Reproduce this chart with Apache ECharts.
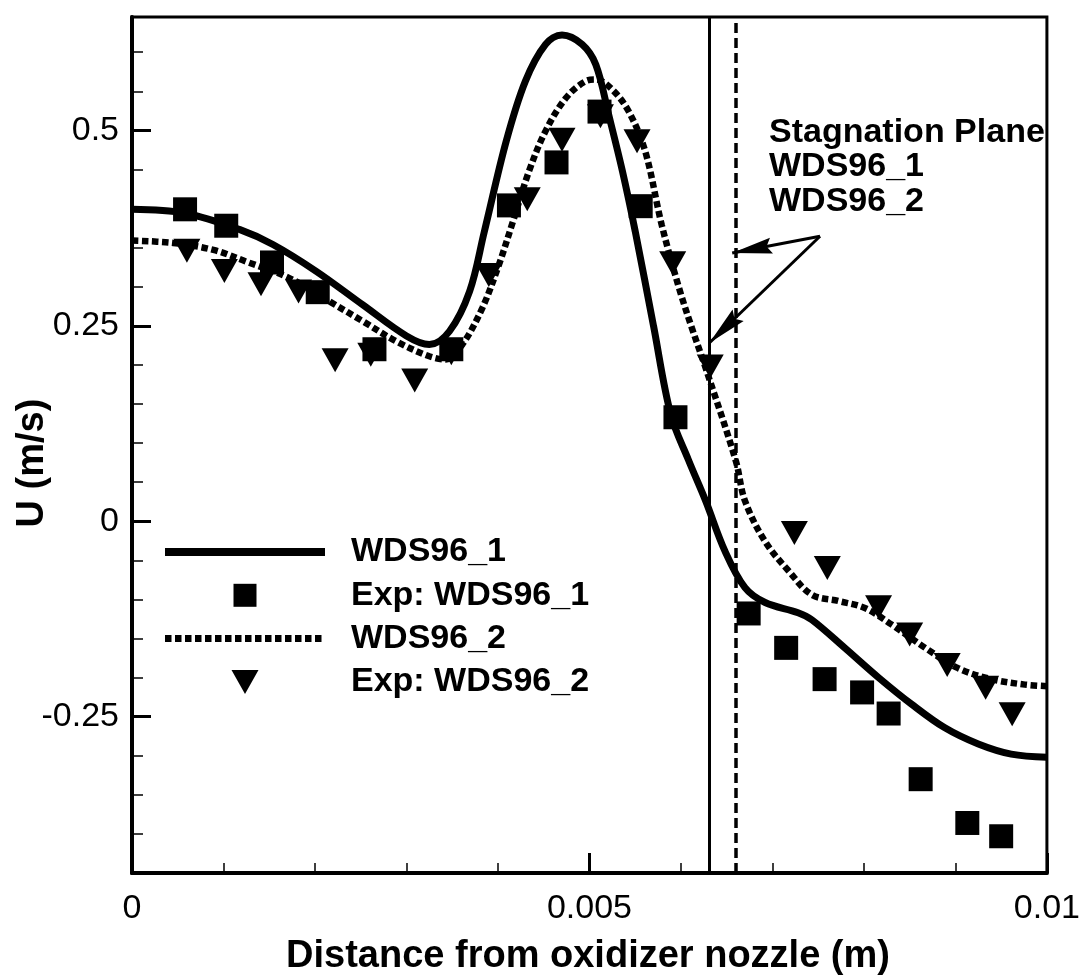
<!DOCTYPE html>
<html>
<head>
<meta charset="utf-8">
<script src="https://cdn.jsdelivr.net/npm/echarts@6/dist/echarts.min.js"></script>
<style>
  html, body { margin: 0; padding: 0; background: #fff; }
  #chart { width: 1083px; height: 980px; }
</style>
</head>
<body>
<div id="chart"></div>
<script>
const FONT = "'Liberation Sans', Arial, Helvetica, sans-serif";

// Axis ranges and ticks
const xMin = 0, xMax = 0.01;
const uMin = -0.45, uMax = 0.645;
const xMajorTicks = [0, 0.005, 0.01];
const xTickLabels = ['0', '0.005', '0.01'];
const xMinorTicks = [0.001, 0.002, 0.003, 0.004, 0.006, 0.007, 0.008, 0.009];
const uMajorTicks = [-0.25, 0, 0.25, 0.5];
const uTickLabels = ['-0.25', '0', '0.25', '0.5'];
const uMinorTicks = [-0.4, -0.35, -0.3, -0.2, -0.15, -0.1, -0.05, 0.05, 0.1, 0.15, 0.2,
                     0.3, 0.35, 0.4, 0.45, 0.55, 0.6];

// Computed velocity, case WDS96_1 (solid)
const wds1X = [0, 0.00058, 0.00118, 0.00154, 0.00201, 0.00252, 0.0030, 0.00325, 0.00347,
               0.00369, 0.00385, 0.00409, 0.0043, 0.00452, 0.0047, 0.00492, 0.00507, 0.00521,
               0.00536, 0.0055, 0.0057, 0.00589, 0.00608, 0.00627, 0.00648, 0.0067, 0.00692,
               0.00728, 0.00743, 0.00779, 0.00816, 0.00852, 0.00888, 0.00925, 0.00961, 0.01];
const wds1U = [0.399, 0.394, 0.373, 0.354, 0.320, 0.277, 0.237, 0.226, 0.243,
               0.294, 0.370, 0.486, 0.563, 0.610, 0.622, 0.610, 0.584, 0.520,
               0.448, 0.371, 0.250, 0.136, 0.079, 0.026, -0.038, -0.085, -0.104,
               -0.117, -0.126, -0.162, -0.200, -0.234, -0.264, -0.285, -0.298, -0.302];

// Computed velocity, case WDS96_2 (dotted)
const wds2X = [0, 0.00045, 0.00089, 0.00125, 0.00172, 0.00216, 0.00252, 0.00289, 0.00325,
               0.00343, 0.00361, 0.00383, 0.00401, 0.00416, 0.00434, 0.00452, 0.00474, 0.00496,
               0.00507, 0.00525, 0.00543, 0.00561, 0.00579, 0.00598, 0.00612, 0.00627, 0.0066,
               0.0067, 0.00692, 0.00718, 0.00743, 0.00772, 0.00801, 0.0083, 0.00867, 0.00903,
               0.00939, 0.00976, 0.01];
const wds2U = [0.359, 0.356, 0.347, 0.332, 0.311, 0.281, 0.256, 0.230, 0.211,
               0.207, 0.226, 0.273, 0.328, 0.382, 0.448, 0.499, 0.541, 0.563,
               0.565, 0.552, 0.524, 0.473, 0.379, 0.298, 0.247, 0.196, 0.077,
               0.026, -0.026, -0.064, -0.094, -0.102, -0.111, -0.132, -0.162, -0.188,
               -0.202, -0.209, -0.211];

// Measurements, case WDS96_1 (squares)
const exp1X = [0.00058, 0.00103, 0.00153, 0.00203, 0.00265, 0.00349, 0.00412, 0.00464, 0.00511,
               0.00556, 0.00594, 0.00674, 0.00715, 0.00757, 0.00798, 0.00827, 0.00862, 0.00913, 0.0095];
const exp1U = [0.399, 0.378, 0.331, 0.293, 0.220, 0.220, 0.404, 0.459, 0.524,
               0.403, 0.133, -0.118, -0.162, -0.202, -0.219, -0.246, -0.330, -0.386, -0.403];

// Measurements, case WDS96_2 (down triangles)
const exp2X = [0.0006, 0.00101, 0.00141, 0.00182, 0.00222, 0.00261, 0.00309, 0.00349, 0.0039,
               0.00432, 0.0047, 0.00512, 0.00552, 0.00591, 0.00632, 0.00724, 0.0076, 0.00816,
               0.0085, 0.00891, 0.00933, 0.00962];
const exp2U = [0.346, 0.320, 0.303, 0.294, 0.206, 0.213, 0.180, 0.215, 0.315,
               0.412, 0.488, 0.518, 0.486, 0.330, 0.198, -0.015, -0.060, -0.110,
               -0.145, -0.184, -0.213, -0.247];

// Stagnation plane locations
const stagPlane1 = 0.00631;
const stagPlane2 = 0.0066;

// Callout arrows: shared tail, tips at each plane
const arrowTail = [0.00752, 0.3645];
const arrowTip1 = [0.00656, 0.343];
const arrowTip2 = [0.00631, 0.228];

const zip = (xs, ys) => xs.map((x, i) => [x, ys[i]]);
const pickLabel = (ticks, labels) => v => {
  const i = ticks.findIndex(t => Math.abs(t - v) < 1e-9);
  return i >= 0 ? labels[i] : '';
};

// Legend icons, laid out in a 160 x 24 box
const solidIcon = 'path://M0,0M160,24M0,8h160v8h-160z';
let dottedPath = 'path://M0,0M160,24';
for (let x = 0; x < 160; x += 10) dottedPath += 'M' + x + ',8.5h6.5v7h-6.5z';
const dottedIcon = dottedPath;
const squareIcon = 'path://M0,0M160,24M68.5,0.5h23v23h-23z';
const triangleIcon = 'path://M0,0M160,24M66.5,0h27l-13.5,24z';
const triangleSymbol = 'path://M0,0h27l-13.5,24z';
// Arrow head pointing up inside a 40 x 40 box
const arrowHead = 'path://M0,0M40,40M20,0L28,40L20,35L12,40Z';

const chart = echarts.init(document.getElementById('chart'), null, { renderer: 'canvas' });

const arrowLine = { color: '#000', width: 3, type: 'solid' };
const headAt = coord => ({ coord: coord, symbol: arrowHead, symbolSize: 40, symbolOffset: [0, 20] });

chart.setOption({
  animation: false,
  backgroundColor: '#fff',
  textStyle: { fontFamily: FONT, color: '#000' },
  grid: {
    left: 132, right: 35, top: 17, bottom: 107,
    show: true, borderColor: '#000', borderWidth: 3, backgroundColor: 'transparent'
  },
  legend: {
    orient: 'vertical',
    left: 165, top: 535,
    padding: 0,
    itemWidth: 160, itemHeight: 24, itemGap: 9.3,
    selectedMode: false,
    textStyle: { fontFamily: FONT, fontWeight: 'bold', fontSize: 34, color: '#000',
                 padding: [0, 0, 0, 21] },
    data: [
      { name: 'WDS96_1', icon: solidIcon },
      { name: 'Exp: WDS96_1', icon: squareIcon },
      { name: 'WDS96_2', icon: dottedIcon },
      { name: 'Exp: WDS96_2', icon: triangleIcon }
    ]
  },
  xAxis: [
    {
      type: 'value', min: xMin, max: xMax, position: 'bottom',
      axisLine: { show: true, onZero: false, lineStyle: { color: '#000', width: 4 } },
      axisTick: { show: true, inside: true, length: 20, customValues: xMajorTicks,
                  lineStyle: { color: '#000', width: 3 } },
      axisLabel: { show: true, customValues: xMajorTicks, formatter: pickLabel(xMajorTicks, xTickLabels),
                   fontFamily: FONT, fontSize: 34, color: '#000', margin: 19 },
      splitLine: { show: false }
    },
    {
      type: 'value', min: xMin, max: xMax, position: 'bottom',
      axisLine: { show: false, onZero: false },
      axisTick: { show: true, inside: true, length: 10, customValues: xMinorTicks,
                  lineStyle: { color: '#000', width: 1.5 } },
      axisLabel: { show: false },
      splitLine: { show: false }
    }
  ],
  yAxis: [
    {
      type: 'value', min: uMin, max: uMax, position: 'left',
      axisLine: { show: true, onZero: false, lineStyle: { color: '#000', width: 4 } },
      axisTick: { show: true, inside: true, length: 19, customValues: uMajorTicks,
                  lineStyle: { color: '#000', width: 3 } },
      axisLabel: { show: true, customValues: uMajorTicks, formatter: pickLabel(uMajorTicks, uTickLabels),
                   fontFamily: FONT, fontSize: 34, color: '#000', margin: 13 },
      splitLine: { show: false }
    },
    {
      type: 'value', min: uMin, max: uMax, position: 'left',
      axisLine: { show: false, onZero: false },
      axisTick: { show: true, inside: true, length: 11, customValues: uMinorTicks,
                  lineStyle: { color: '#000', width: 1.5 } },
      axisLabel: { show: false },
      splitLine: { show: false }
    }
  ],
  graphic: [
    {
      // x-axis title
      type: 'text', x: 588, y: 957,
      style: { text: 'Distance from oxidizer nozzle (m)', fontFamily: FONT, fontWeight: 'bold',
               fontSize: 38, fill: '#000', align: 'center', verticalAlign: 'middle' }
    },
    {
      // y-axis title
      type: 'text', x: 33, y: 463, rotation: Math.PI / 2,
      style: { text: 'U (m/s)', fontFamily: FONT, fontWeight: 'bold', fontSize: 38,
               fill: '#000', align: 'center', verticalAlign: 'middle' }
    },
    {
      type: 'text', x: 769, y: 115,
      style: { text: 'Stagnation Plane\nWDS96_1\nWDS96_2', fontFamily: FONT, fontWeight: 'bold',
               fontSize: 34, lineHeight: 34.5, fill: '#000', align: 'left', verticalAlign: 'top' }
    }
  ],
  series: [
    {
      name: 'planes', type: 'line', data: [], silent: true,
      markLine: {
        silent: true, symbol: 'none', animation: false,
        label: { show: false },
        data: [
          [{ coord: [stagPlane1, uMin], lineStyle: { color: '#000', width: 3, type: 'solid' } },
           { coord: [stagPlane1, uMax] }],
          [{ coord: [stagPlane2, uMin], lineStyle: { color: '#000', width: 3.5, type: [10, 5] } },
           { coord: [stagPlane2, uMax] }]
        ]
      }
    },
    {
      name: 'callouts', type: 'line', data: [], silent: true,
      markLine: {
        silent: true, animation: false,
        symbol: ['none', 'none'],
        label: { show: false },
        lineStyle: arrowLine,
        itemStyle: { color: '#000' },
        data: [
          [{ coord: arrowTail, lineStyle: arrowLine }, headAt(arrowTip1)],
          [{ coord: arrowTail, lineStyle: arrowLine }, headAt(arrowTip2)]
        ]
      }
    },
    {
      name: 'WDS96_1', type: 'line', data: zip(wds1X, wds1U),
      symbol: 'none', smooth: 0.35,
      lineStyle: { color: '#000', width: 7, cap: 'butt' },
      itemStyle: { color: '#000' }
    },
    {
      name: 'WDS96_2', type: 'line', data: zip(wds2X, wds2U),
      symbol: 'none', smooth: 0.35,
      lineStyle: { color: '#000', width: 6.5, type: [6.5, 3.5], cap: 'butt' },
      itemStyle: { color: '#000' }
    },
    {
      name: 'Exp: WDS96_1', type: 'scatter', data: zip(exp1X, exp1U),
      symbol: 'rect', symbolSize: 24,
      itemStyle: { color: '#000', opacity: 1 }
    },
    {
      name: 'Exp: WDS96_2', type: 'scatter', data: zip(exp2X, exp2U),
      symbol: triangleSymbol, symbolSize: [27, 24],
      itemStyle: { color: '#000', opacity: 1 }
    }
  ]
});
</script>
</body>
</html>
